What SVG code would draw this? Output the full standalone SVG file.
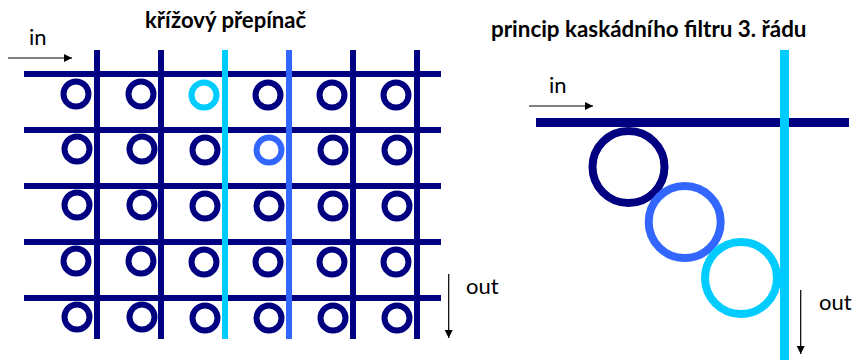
<svg xmlns="http://www.w3.org/2000/svg" width="854" height="360" viewBox="0 0 854 360">
<style>
text{font-family:Lato,"Liberation Sans",sans-serif;fill:#000}
.t{font-size:22px;font-weight:700}
.l{font-size:22px}
.n{stroke:#000080}.b{stroke:#3366ff}.c{stroke:#00ccff}
.g line{stroke-width:6}
.r{fill:none;stroke-width:6}
.R{fill:none;stroke-width:8}
.a{stroke:#000;stroke-width:1.2;marker-end:url(#h)}
</style>
<defs><marker id="h" markerUnits="userSpaceOnUse" markerWidth="8" markerHeight="8" refX="8" refY="4" orient="auto"><path d="M0 0L8 4L0 8Z" fill="#000"/></marker></defs>
<rect width="854" height="360" fill="#fff"/>
<g id="connectors">
<g class="g">
<line class="n" x1="24" y1="74" x2="441" y2="74"/>
<line class="n" x1="24" y1="130" x2="441" y2="130"/>
<line class="n" x1="24" y1="186" x2="441" y2="186"/>
<line class="n" x1="24" y1="242" x2="441" y2="242"/>
<line class="n" x1="24" y1="298" x2="441" y2="298"/>
<line class="n" x1="97" y1="50" x2="97" y2="339"/>
<line class="n" x1="161" y1="50" x2="161" y2="339"/>
<line class="c" x1="225" y1="50" x2="225" y2="339"/>
<line class="b" x1="289" y1="50" x2="289" y2="339"/>
<line class="n" x1="353" y1="50" x2="353" y2="339"/>
<line class="n" x1="417" y1="50" x2="417" y2="339"/>
</g>
<line class="a" x1="8" y1="58" x2="72" y2="58"/>
<line class="a" x1="448.700" y1="274" x2="448.700" y2="338"/>
<line class="n" x1="536" y1="122.500" x2="849" y2="122.500" stroke-width="9"/>
<line class="c" x1="784.500" y1="50" x2="784.500" y2="360" stroke-width="9"/>
<line class="a" x1="529" y1="106" x2="593" y2="106"/>
<line class="a" x1="800.700" y1="290" x2="800.700" y2="354"/>
</g>
<g id="crossbar-rings" class="r">
<circle id="r11" class="n" cx="76" cy="94" r="12.500"/>
<circle id="r12" class="n" cx="141" cy="94" r="12.500"/>
<circle id="r13" class="c" cx="204" cy="95" r="12.500"/>
<circle id="r14" class="n" cx="268" cy="95" r="12.500"/>
<circle id="r15" class="n" cx="332" cy="95" r="12.500"/>
<circle id="r16" class="n" cx="396" cy="95" r="12.500"/>
<circle id="r21" class="n" cx="77" cy="149" r="12.500"/>
<circle id="r22" class="n" cx="142" cy="149" r="12.500"/>
<circle id="r23" class="n" cx="205" cy="150" r="12.500"/>
<circle id="r24" class="b" cx="269" cy="150" r="12.500"/>
<circle id="r25" class="n" cx="333" cy="150" r="12.500"/>
<circle id="r26" class="n" cx="397" cy="150" r="12.500"/>
<circle id="r31" class="n" cx="77" cy="205" r="12.500"/>
<circle id="r32" class="n" cx="142" cy="205" r="12.500"/>
<circle id="r33" class="n" cx="205" cy="206" r="12.500"/>
<circle id="r34" class="n" cx="269" cy="206" r="12.500"/>
<circle id="r35" class="n" cx="333" cy="206" r="12.500"/>
<circle id="r36" class="n" cx="397" cy="206" r="12.500"/>
<circle id="r41" class="n" cx="76" cy="261" r="12.500"/>
<circle id="r42" class="n" cx="141" cy="261" r="12.500"/>
<circle id="r43" class="n" cx="204" cy="262" r="12.500"/>
<circle id="r44" class="n" cx="268" cy="262" r="12.500"/>
<circle id="r45" class="n" cx="332" cy="262" r="12.500"/>
<circle id="r46" class="n" cx="396" cy="262" r="12.500"/>
<circle id="r51" class="n" cx="77" cy="317" r="12.500"/>
<circle id="r52" class="n" cx="142" cy="317" r="12.500"/>
<circle id="r53" class="n" cx="205" cy="318" r="12.500"/>
<circle id="r54" class="n" cx="269" cy="318" r="12.500"/>
<circle id="r55" class="n" cx="333" cy="318" r="12.500"/>
<circle id="r56" class="n" cx="397" cy="318" r="12.500"/>
</g>
<g id="cascade-rings" class="R">
<circle id="ring1" class="n" cx="628.500" cy="167" r="36"/>
<circle id="ring2" class="b" cx="684.700" cy="222" r="36"/>
<circle id="ring3" class="c" cx="741" cy="278" r="36"/>
</g>
<g id="labels">
<text class="t" x="145" y="28" font-size="22" style="font-size:22.100px">křížový přepínač</text>
<text class="t" x="491" y="37" style="font-size:22.400px">princip kaskádního filtru 3. řádu</text>
<text class="l" x="29" y="45">in</text>
<text class="l" x="466" y="294">out</text>
<text class="l" x="549" y="93">in</text>
<text class="l" x="819" y="310">out</text>
</g>
</svg>
